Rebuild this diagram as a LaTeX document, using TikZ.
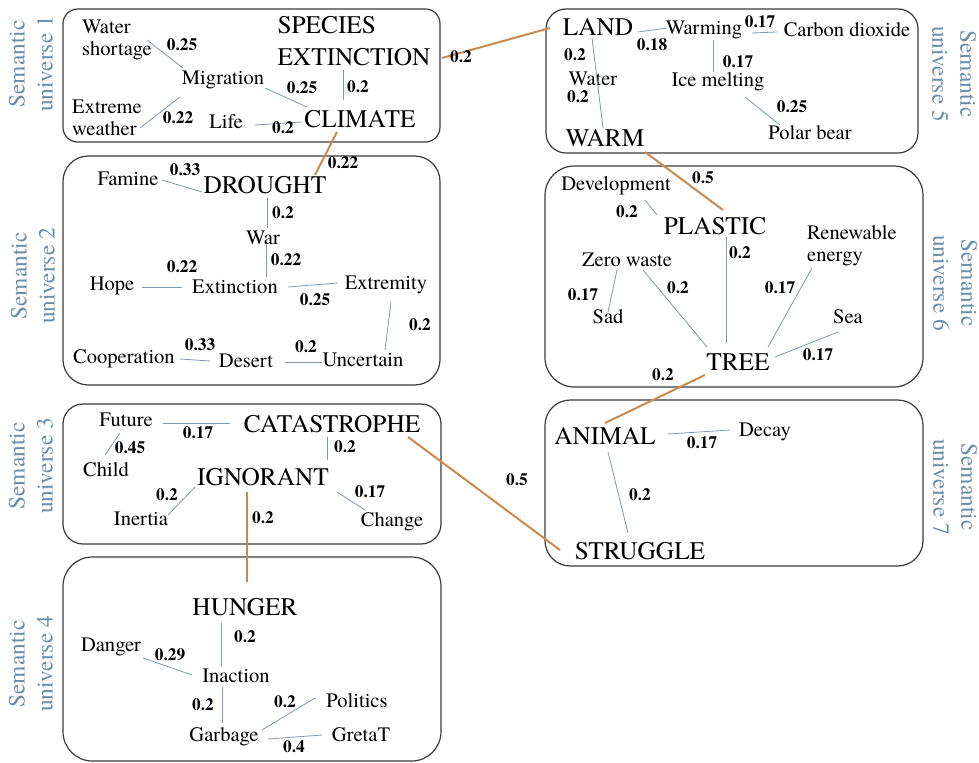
\documentclass[tikz,border=0pt]{standalone}
\usepackage{fontspec}
\setmainfont{TeX Gyre Termes}
\usetikzlibrary{calc}
\definecolor{edgec}{HTML}{7F98B0}
\definecolor{orangec}{HTML}{C98A50}
\definecolor{labc}{HTML}{6A8DA8}
\definecolor{boxc}{HTML}{3A3A3A}
\tikzset{
 bigw/.style={font=\rmfamily\fontsize{19}{24}\selectfont, inner sep=0pt, align=left},
 word/.style={font=\rmfamily\fontsize{15.4}{16.5}\selectfont, inner sep=0pt, align=left},
 wlab/.style={font=\rmfamily\fontsize{13}{14}\selectfont\bfseries, inner sep=0pt},
 semL/.style={font=\rmfamily\fontsize{17.5}{21}\selectfont, text=labc, rotate=90, align=center, inner sep=0pt},
 semR/.style={font=\rmfamily\fontsize{17.5}{21}\selectfont, text=labc, rotate=-90, align=center, inner sep=0pt},
 link/.style={draw=edgec, line width=0.6pt},
 olink/.style={draw=orangec, line width=1.5pt},
 grp/.style={draw=boxc, line width=0.9pt},
}
\begin{document}
\begin{tikzpicture}[x=0.75pt, y=-0.75pt]
\useasboundingbox (0,0) rectangle (979,763);
% boxes
\draw[grp, rounded corners=11pt] (63,9) rectangle (440,142);
\draw[grp, rounded corners=19pt] (63,156) rectangle (440,385);
\draw[grp, rounded corners=15pt] (63,404) rectangle (441,544);
\draw[grp, rounded corners=22pt] (63,557) rectangle (441,761);
\draw[grp, rounded corners=15pt] (546,9) rectangle (918,153);
\draw[grp, rounded corners=22pt] (545,166) rectangle (923,387);
\draw[grp, rounded corners=19pt] (545,400) rectangle (923,566);
% semantic universe labels
\node[semL] (s1) at (31,64) {Semantic\\universe 1};
\node[semL] (s2) at (33,276) {Semantic\\universe 2};
\node[semL] (s3) at (31,466) {Semantic\\universe 3};
\node[semL] (s4) at (31,664) {Semantic\\universe 4};
\node[semR] (s5) at (954,74) {Semantic\\universe 5};
\node[semR] (s6) at (955,283) {Semantic\\universe 6};
\node[semR] (s7) at (955,487) {Semantic\\universe 7};
% box 1
\node[word] (WS) at (117,40) {Water\\shortage};
\node[bigw] (SE) at (354,41) {SPECIES\\EXTINCTION};
\node[word] (Mig) at (223,80) {Migration};
\node[word] (EW) at (107,118) {Extreme\\weather};
\node[word] (Life) at (226,122) {Life};
\node[bigw] (CLIM) at (360,119) {CLIMATE};
\draw[link] ($(WS)+(30,0)$) -- ($(Mig)+(-40,-12)$);
\draw[link] ($(Mig)+(42,8)$) -- ($(CLIM)+(-53,-12)$);
\draw[link] ($(SE)+(-11,29)$) -- ($(CLIM)+(-17,-19)$);
\draw[link] ($(EW)+(33,10)$) -- ($(Mig)+(-43,17)$);
\draw[link] ($(Life)+(29,3)$) -- ($(CLIM)+(-58,3)$);
\node[wlab] (l1) at (182,45) {0.25};
\node[wlab] (l2) at (302,88) {0.25};
\node[wlab] (l3) at (358,87) {0.2};
\node[wlab] (l4) at (178,118) {0.22};
\node[wlab] (l5) at (283,128) {0.2};
% box 2
\node[word] (Fam) at (128,179) {Famine};
\node[bigw] (DR) at (265,185) {DROUGHT};
\node[word] (War) at (263,238) {War};
\node[word] (Hope) at (112,286) {Hope};
\node[word] (Ext) at (235,287) {Extinction};
\node[word] (Extr) at (386,285) {Extremity};
\node[word] (Coop) at (124,359) {Cooperation};
\node[word] (Des) at (246,361) {Desert};
\node[word] (Unc) at (363,360) {Uncertain};
\draw[link] ($(Fam)+(34,1)$) -- ($(DR)+(-63,7)$);
\draw[link] ($(DR)+(2,13)$) -- ($(War)+(4,-10)$);
\draw[link] ($(War)+(3,7)$) -- ($(Ext)+(31,-10)$);
\draw[link] ($(Hope)+(30,1)$) -- ($(Ext)+(-53,0)$);
\draw[link] ($(Ext)+(53,0)$) -- ($(Extr)+(-48,-2)$);
\draw[link] ($(Extr)+(5,17)$) -- ($(Unc)+(22,-10)$);
\draw[link] ($(Coop)+(56,0)$) -- ($(Des)+(-36,0)$);
\draw[link] ($(Des)+(39,1)$) -- ($(Unc)+(-41,2)$);
\node[wlab] (l6) at (185,170) {0.33};
\node[wlab] (l7) at (283,213) {0.2};
\node[wlab] (l8) at (286,260) {0.22};
\node[wlab] (l9) at (182,267) {0.22};
\node[wlab] (l10) at (315,300) {0.25};
\node[wlab] (l11) at (420,325) {0.2};
\node[wlab] (l12) at (200,345) {0.33};
\node[wlab] (l13) at (306,347) {0.2};
% box 3
\node[word] (Fut) at (126,420) {Future};
\node[bigw] (CAT) at (332,424) {CATASTROPHE};
\node[word] (Child) at (106,470) {Child};
\node[bigw] (IGN) at (263,477) {IGNORANT};
\node[word] (Inr) at (141,519) {Inertia};
\node[word] (Chg) at (392,522) {Change};
\draw[link] ($(Fut)+(37,3)$) -- ($(CAT)+(-102,-1)$);
\draw[link] ($(Fut)+(-6,13)$) -- ($(Child)+(-1,-15)$);
\draw[link] ($(CAT)+(-5,13)$) -- ($(IGN)+(64,-17)$);
\draw[link] ($(IGN)+(-68,10)$) -- ($(Inr)+(27,-4)$);
\draw[link] ($(IGN)+(74,15)$) -- ($(Chg)+(-27,-12)$);
\node[wlab] (l14) at (198,433) {0.17};
\node[wlab] (l15) at (130,448) {0.45};
\node[wlab] (l16) at (345,447) {0.2};
\node[wlab] (l17) at (167,495) {0.2};
\node[wlab] (l18) at (370,492) {0.17};
% box 4
\node[bigw] (HUN) at (245,607) {HUNGER};
\node[word] (Dan) at (111,647) {Danger};
\node[word] (Ina) at (236,676) {Inaction};
\node[word] (Pol) at (357,701) {Politics};
\node[word] (Gar) at (224,737) {Garbage};
\node[word] (Gre) at (361,735) {GretaT};
\draw[link] ($(HUN)+(-24,16)$) -- ($(Ina)+(-15,-9)$);
\draw[link] ($(Dan)+(32,11)$) -- ($(Ina)+(-44,-1)$);
\draw[link] ($(Ina)+(-14,11)$) -- ($(Gar)+(-2,-14)$);
\draw[link] ($(Gar)+(38,-7)$) -- ($(Pol)+(-42,-3)$);
\draw[link] ($(Gar)+(44,2)$) -- ($(Gre)+(-39,0)$);
\node[wlab] (l19) at (245,637) {0.2};
\node[wlab] (l20) at (170,655) {0.29};
\node[wlab] (l21) at (203,705) {0.2};
\node[wlab] (l22) at (285,702) {0.2};
\node[wlab] (l23) at (294,747) {0.4};
% box 5
\node[bigw] (LAND) at (598,27) {LAND};
\node[word] (Warm) at (704,30) {Warming};
\node[word] (CO2) at (847,30) {Carbon dioxide};
\node[word] (Wat) at (593,79) {Water};
\node[bigw] (WARM) at (605,138) {WARM};
\node[word] (Ice) at (718,82) {Ice melting};
\node[word] (PB) at (810,133) {Polar bear};
\draw[link] ($(LAND)+(40,5)$) -- ($(Warm)+(-37,-2)$);
\draw[link] ($(Warm)+(48,3)$) -- ($(CO2)+(-70,2)$);
\draw[link] ($(LAND)+(-6,11)$) -- ($(WARM)+(-2,-10)$);
\draw[link] ($(Warm)+(9,10)$) -- ($(Ice)+(-5,-10)$);
\draw[link] ($(Ice)+(27,15)$) -- ($(PB)+(-30,-8)$);
\node[wlab] (l24) at (652,45) {0.18};
\node[wlab] (l25) at (760,22) {0.17};
\node[wlab] (l26) at (575,55) {0.2};
\node[wlab] (l27) at (578,97) {0.2};
\node[wlab] (l28) at (738,62) {0.17};
\node[wlab] (l29) at (792,107) {0.25};
% box 6
\node[word] (Dev) at (616,186) {Development};
\node[bigw] (PL) at (715,226) {PLASTIC};
\node[word] (Ren) at (852,246) {Renewable\\energy};
\node[word] (ZW) at (627,260) {Zero waste};
\node[word] (Sad) at (608,317) {Sad};
\node[word] (Sea) at (848,317) {Sea};
\node[bigw] (TREE) at (738,362) {TREE};
\draw[link] ($(Dev)+(29,14)$) -- ($(PL)+(-58,-11)$);
\draw[link] ($(PL)+(11,11)$) -- ($(TREE)+(-12,-19)$);
\draw[link] ($(ZW)+(-10,10)$) -- ($(Sad)+(0,-5)$);
\draw[link] ($(ZW)+(16,10)$) -- ($(TREE)+(-31,-15)$);
\draw[link] ($(Ren)+(-40,22)$) -- ($(TREE)+(30,-15)$);
\draw[link] ($(Sea)+(-10,15)$) -- ($(TREE)+(37,-5)$);
\node[wlab] (l30) at (627,212) {0.2};
\node[wlab] (l31) at (740,253) {0.2};
\node[wlab] (l32) at (583,295) {0.17};
\node[wlab] (l33) at (678,288) {0.2};
\node[wlab] (l34) at (780,288) {0.17};
\node[wlab] (l35) at (818,355) {0.17};
% box 7
\node[bigw] (AN) at (605,436) {ANIMAL};
\node[word] (Dec) at (765,432) {Decay};
\node[bigw] (STR) at (640,551) {STRUGGLE};
\draw[link] ($(AN)+(63,-2)$) -- ($(Dec)+(-35,-2)$);
\draw[link] ($(AN)+(3,16)$) -- ($(STR)+(-12,-18)$);
\node[wlab] (l36) at (702,443) {0.17};
\node[wlab] (l37) at (640,495) {0.2};
% inter-universe links
\draw[olink] ($(SE)+(88,17)$) -- ($(LAND)+(-48,1)$);
\draw[olink] ($(CLIM)+(-23,13)$) -- ($(DR)+(50,-10)$);
\draw[olink] ($(WARM)+(40,14)$) -- ($(PL)+(8,-16)$);
\draw[olink] ($(TREE)+(-33,13)$) -- ($(AN)+(0,-13)$);
\draw[olink] ($(CAT)+(76,13)$) -- ($(STR)+(-80,-1)$);
\draw[olink] ($(IGN)+(-16,15)$) -- ($(HUN)+(2,-25)$);
\node[wlab] (o1) at (461,57) {0.2};
\node[wlab] (o2) at (343,163) {0.22};
\node[wlab] (o3) at (703,178) {0.5};
\node[wlab] (o4) at (663,375) {0.2};
\node[wlab] (o5) at (517,480) {0.5};
\node[wlab] (o6) at (263,518) {0.2};
\end{tikzpicture}
\end{document}
